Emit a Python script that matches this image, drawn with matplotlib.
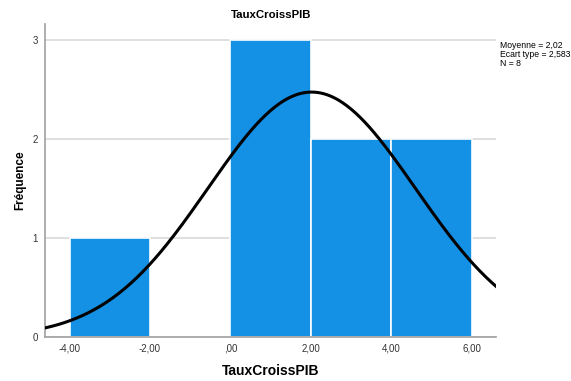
import numpy as np
import matplotlib.pyplot as plt

plt.rcParams['font.family'] = ['Liberation Sans', 'DejaVu Sans']

# histogram data
bin_edges = [-4.0, -2.0, 0.0, 2.0, 4.0, 6.0]
counts = [1, 0, 3, 2, 2]
mean = 2.02
std = 2.583
n = 8

xticks = [-4, -2, 0, 2, 4, 6]
xticklabels = ['-4,00', '-2,00', ',00', '2,00', '4,00', '6,00']
yticks = [0, 1, 2, 3]

fig = plt.figure(figsize=(5.71, 3.81), dpi=100)
ax = fig.add_axes([0.079, 0.1155, 0.790, 0.822])

lefts = bin_edges[:-1]
widths = np.diff(bin_edges)
ax.bar(lefts, counts, width=widths, align='edge', color='#1490E4',
       edgecolor='white', linewidth=1.2, zorder=2)

# normal curve scaled to counts
xmin, xmax = -4.61, 6.61
xs = np.linspace(xmin, xmax, 300)
bw = widths[0]
ys = n * bw / (std * np.sqrt(2 * np.pi)) * np.exp(-0.5 * ((xs - mean) / std) ** 2)
ax.plot(xs, ys, color='black', lw=2.2, zorder=3)

ax.set_xlim(xmin, xmax)
ax.set_ylim(0, 3.16)
ax.set_xticks(xticks)
ax.set_xticklabels(xticklabels, fontsize=7)
ax.set_yticks(yticks)
ax.set_yticklabels([str(v) for v in yticks], fontsize=7)
ax.tick_params(axis='both', length=0, pad=5, colors='#333333')
ax.yaxis.grid(True, color='#d9d9d9', lw=1.2, zorder=0)
ax.set_axisbelow(True)

for s in ['top', 'right']:
    ax.spines[s].set_visible(False)
for s in ['left', 'bottom']:
    ax.spines[s].set_color('#a0a0a0')
    ax.spines[s].set_linewidth(1.2)

ax.set_title('TauxCroissPIB', fontsize=8.2, fontweight='bold', pad=4)
ax.set_xlabel('TauxCroissPIB', fontsize=10, fontweight='bold', labelpad=7)
ax.set_ylabel('Fréquence', fontsize=8.5, fontweight='bold', labelpad=5)

fig.text(0.876, 0.892, 'Moyenne = 2,02\nEcart type = 2,583\nN = 8',
         fontsize=6.2, va='top', ha='left', linespacing=1.0)

fig.savefig('out.png', dpi=100)
